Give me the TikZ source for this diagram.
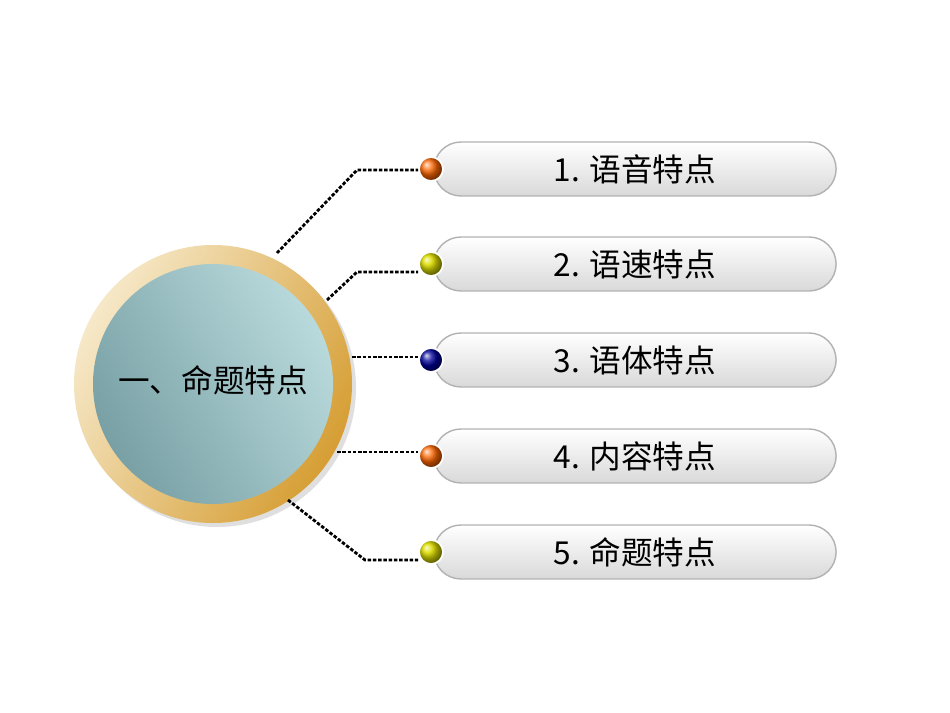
\documentclass[tikz,border=0pt]{standalone}
\usepackage{fontspec}
\newfontfamily\cjk{Noto Sans CJK SC}
\usetikzlibrary{shapes.misc}
\definecolor{gold}{RGB}{214,158,52}
\definecolor{beige}{RGB}{246,232,200}
\definecolor{tealA}{RGB}{120,160,165}
\definecolor{tealB}{RGB}{185,218,220}
\begin{document}
\begin{tikzpicture}[x=0.02cm,y=-0.02cm,
  pill/.style={rounded rectangle,minimum width=8.28cm,minimum height=1.08cm,draw=gray!60,line width=0.8pt,
    top color=white,bottom color=gray!30,font=\cjk\fontsize{18}{21}\selectfont,text=black},
  conn/.style={line width=1.6pt,dash pattern=on 2pt off 1pt},
  dot/.style={circle,minimum size=0.48cm,inner sep=0pt,draw=white,line width=1pt}]
\useasboundingbox (0,0) rectangle (950,713);
\fill[gray!25] (217,388) circle (139);
\shade[left color=beige,right color=gold,shading angle=60] (213,384) circle (139);
\shade[left color=tealA,right color=tealB,shading angle=120] (213,384) circle (120);
\node[font=\cjk\fontsize{18}{21}\selectfont] (c) at (213,380) {一、命题特点};
\foreach \i/\y/\t/\col in {1/169/1. 语音特点/orange!80!red,2/264/2. 语速特点/yellow!70!olive,3/360/3. 语体特点/blue!60!black,4/456/4. 内容特点/orange!80!red,5/552/5. 命题特点/yellow!70!olive}{
  \node[pill] (p\i) at (635,\y) {\t};
  \node[dot,ball color=\col] (d\i) at (431,\y) {};
}
\coordinate (a1) at (277,253); \coordinate (b1) at (357,170);
\coordinate (a2) at (327,300); \coordinate (b2) at (357,272);
\coordinate (a3) at (352,357);
\coordinate (a4) at (337,452);
\coordinate (a5) at (288,500); \coordinate (b5) at (365,560);
\draw[conn] (a1) -- (b1) -- (d1.west |- b1);
\draw[conn] (a2) -- (b2) -- (d2.west |- b2);
\draw[conn] (a3) -- (d3.west |- a3);
\draw[conn] (a4) -- (d4.west |- a4);
\draw[conn] (a5) -- (b5) -- (d5.west |- b5);
\end{tikzpicture}
\end{document}
